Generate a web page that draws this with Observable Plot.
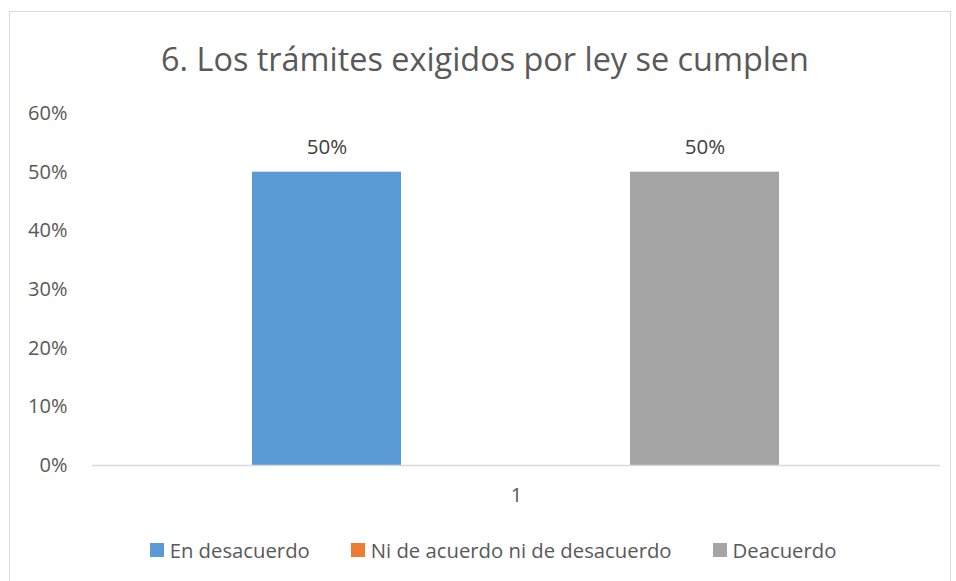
<!DOCTYPE html>
<html>
<head>
<meta charset="utf-8">
<script src="https://cdn.jsdelivr.net/npm/d3@7"></script>
<script src="https://cdn.jsdelivr.net/npm/@observablehq/plot@0.6"></script>
<style>
  body { margin: 0; background: #fff; font-family: "Open Sans", sans-serif; }
  #frame { position: absolute; left: 9px; top: 11px; width: 942px; height: 600px; border: 1px solid #d9d9d9; box-sizing: border-box; }
  #title { position: absolute; left: 9px; width: 952px; top: 35px; text-align: center; font-size: 32.4px; color: #595959; line-height: 46px; }
  #chart { position: absolute; left: 0; top: 100px; }
  #legend { position: absolute; left: 0; width: 986px; top: 538px; display: flex; justify-content: center; gap: 41px; font-size: 20.3px; color: #595959; line-height: 24px; }
  #legend span.item { display: flex; align-items: center; }
  #legend span.sw { display: inline-block; width: 14px; height: 14px; margin-right: 6px; }
</style>
</head>
<body>
<div id="frame"></div>
<div id="title">6. Los trámites exigidos por ley se cumplen</div>
<div id="chart"></div>
<div id="legend"></div>
<script>
const categories = ["1"];
const series = ["En desacuerdo", "Ni de acuerdo ni de desacuerdo", "Deacuerdo"];
const values = [0.5, null, 0.5];
const colors = ["#5B9BD5", "#ED7D31", "#A5A5A5"];
const yTicks = [0, 0.1, 0.2, 0.3, 0.4, 0.5, 0.6];

const data = series.map((s, i) => ({category: categories[0], series: s, value: values[i]}));

const plot = Plot.plot({
  width: 956,
  height: 410,
  marginLeft: 92,
  marginRight: 16,
  marginTop: 13,
  marginBottom: 45,
  style: {fontFamily: "'Open Sans', sans-serif", fontSize: "20px", color: "#595959", background: "transparent"},
  fx: {domain: categories, padding: 0, label: null, axis: "bottom", tickSize: 0, tickPadding: 22},
  x: {domain: series, paddingInner: 0.2116, paddingOuter: 0.8466, axis: null},
  y: {domain: [0, 0.6], ticks: yTicks, tickFormat: d3.format(".0%"), tickSize: 0, tickPadding: 25, label: null},
  color: {domain: series, range: colors},
  marks: [
    Plot.barY(data.filter(d => d.value != null), {fx: "category", x: "series", y: "value", fill: "series"}),
    Plot.ruleY([0], {stroke: "#d9d9d9", strokeWidth: 1.5}),
    Plot.text(data.filter(d => d.value != null), {fx: "category", x: "series", y: "value", text: d => d3.format(".0%")(d.value), dy: -25, fill: "#404040", fontSize: 20.5})
  ]
});
document.getElementById("chart").appendChild(plot);

const legend = document.getElementById("legend");
series.forEach((s, i) => {
  const item = document.createElement("span");
  item.className = "item";
  const sw = document.createElement("span");
  sw.className = "sw";
  sw.style.background = colors[i];
  item.appendChild(sw);
  item.appendChild(document.createTextNode(s));
  legend.appendChild(item);
});
</script>
</body>
</html>
